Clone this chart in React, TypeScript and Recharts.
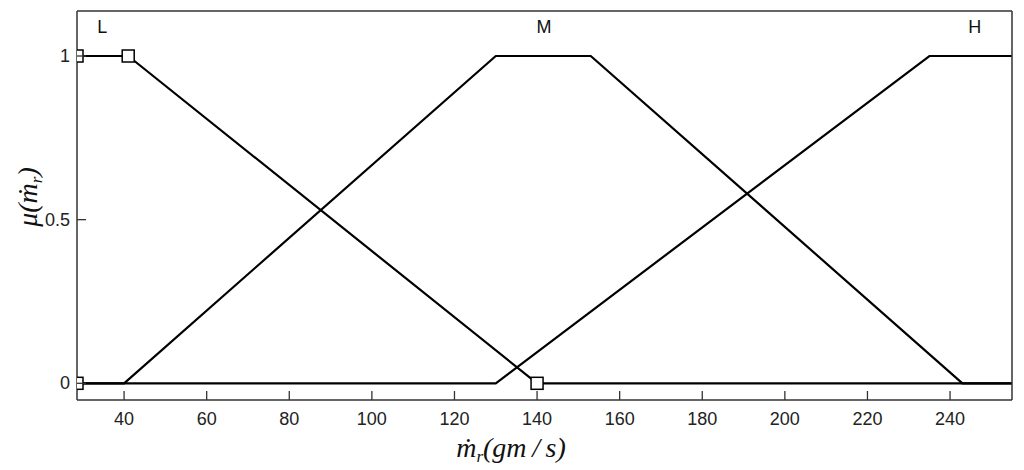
import React from 'react';
import { ComposedChart, Line, Scatter, XAxis, YAxis, ReferenceDot } from 'recharts';

const xDomain: [number, number] = [28.6, 255];
const yDomain: [number, number] = [-0.051, 1.1375];
const xTicks = [40, 60, 80, 100, 120, 140, 160, 180, 200, 220, 240];
const yTicks = [0, 0.5, 1];
const yTickLabels = ['0', '0.5', '1'];

const lowX = [28.6, 41, 140, 255];
const lowY = [1, 1, 0, 0];
const midX = [28.6, 40, 130, 153, 243, 255];
const midY = [0, 0, 1, 1, 0, 0];
const highX = [28.6, 130, 235, 255];
const highY = [0, 0, 1, 1];
const markerX = [28.6, 41, 28.6, 140];
const markerY = [1, 1, 0, 0];
const setNames = ['L', 'M', 'H'];
const setNameX = [34.7, 141.7, 246];
const setNameY = 1.09;

const zip = (xs: number[], ys: number[]) => xs.map((x, i) => ({ x, y: ys[i] }));
const lowData = zip(lowX, lowY);
const midData = zip(midX, midY);
const highData = zip(highX, highY);
const markerData = zip(markerX, markerY);

const AXIS = '#333';
const SANS = '"Liberation Sans", Arial, sans-serif';
const SERIF = '"Liberation Serif", "Times New Roman", serif';

const XTick = (props: any) => {
  const { x, y, payload } = props;
  return (
    <g>
      <line x1={x} y1={y} x2={x} y2={y - 9} stroke={AXIS} strokeWidth={1.3} />
      <text x={x} y={y + 25} textAnchor="middle" fontSize={18} fontFamily={SANS} fill="#222">
        {payload.value}
      </text>
    </g>
  );
};

const YTick = (props: any) => {
  const { x, y, payload } = props;
  const idx = yTicks.indexOf(payload.value);
  return (
    <g>
      <line x1={x} y1={y} x2={x + 9} y2={y} stroke={AXIS} strokeWidth={1.3} />
      <text x={x - 7} y={y + 6} textAnchor="end" fontSize={18} fontFamily={SANS} fill="#222">
        {idx >= 0 ? yTickLabels[idx] : payload.value}
      </text>
    </g>
  );
};

const Square = (props: any) => {
  const { cx, cy } = props;
  return <rect x={cx - 6} y={cy - 6} width={12} height={12} fill="#fff" stroke="#000" strokeWidth={1.5} />;
};

const XTitle = () => (
  <text x={511} y={457} textAnchor="middle" fontSize={28} fontFamily={SERIF} fontStyle="italic" fill="#111">
    <tspan>ṁ</tspan>
    <tspan fontSize={17} dy={5}>r</tspan>
    <tspan dy={-5}>(gm{'\u2009'}/{'\u2009'}s)</tspan>
  </text>
);

const YTitle = () => (
  <text
    x={0}
    y={0}
    transform="translate(37,197) rotate(-90)"
    textAnchor="middle"
    fontSize={28}
    fontFamily={SERIF}
    fontStyle="italic"
    fill="#111"
  >
    <tspan>μ(ṁ</tspan>
    <tspan fontSize={17} dy={5}>r</tspan>
    <tspan dy={-5}>)</tspan>
  </text>
);

export default function App() {
  return (
    <div style={{ position: 'absolute', left: 0, top: 0, background: '#fff' }}>
      <ComposedChart
        width={1024}
        height={470}
        margin={{ top: 10, right: 11, bottom: 0, left: 37 }}
      >
        <XAxis
          dataKey="x"
          type="number"
          domain={xDomain}
          ticks={xTicks}
          allowDataOverflow
          height={70}
          tickSize={0}
          tickMargin={0}
          tickLine={false}
          tick={<XTick />}
          axisLine={{ stroke: AXIS, strokeWidth: 1.5 }}
          label={{ content: () => <XTitle /> }}
        />
        <XAxis
          xAxisId="top"
          orientation="top"
          type="number"
          domain={xDomain}
          allowDataOverflow
          height={1}
          tick={false}
          tickLine={false}
          axisLine={{ stroke: AXIS, strokeWidth: 1.5 }}
        />
        <YAxis
          type="number"
          domain={yDomain}
          ticks={yTicks}
          allowDataOverflow
          width={40}
          tickSize={0}
          tickMargin={0}
          tickLine={false}
          tick={<YTick />}
          axisLine={{ stroke: AXIS, strokeWidth: 1.5 }}
          label={{ content: () => <YTitle /> }}
        />
        <YAxis
          yAxisId="right"
          orientation="right"
          type="number"
          domain={yDomain}
          allowDataOverflow
          width={1}
          tick={false}
          tickLine={false}
          axisLine={{ stroke: AXIS, strokeWidth: 1.5 }}
        />
        <Line data={lowData} dataKey="y" type="linear" stroke="#000" strokeWidth={2.2} strokeLinejoin="round" dot={false} isAnimationActive={false} />
        <Line data={midData} dataKey="y" type="linear" stroke="#000" strokeWidth={2.2} strokeLinejoin="round" dot={false} isAnimationActive={false} />
        <Line data={highData} dataKey="y" type="linear" stroke="#000" strokeWidth={2.2} strokeLinejoin="round" dot={false} isAnimationActive={false} />
        <Scatter data={markerData} dataKey="y" shape={<Square />} isAnimationActive={false} />
        {setNames.map((n, i) => (
          <ReferenceDot
            key={n}
            x={setNameX[i]}
            y={setNameY}
            r={0}
            fill="none"
            stroke="none"
            ifOverflow="visible"
            label={{ value: n, position: 'center', fontSize: 18, fontFamily: SANS, fill: '#111' }}
          />
        ))}
      </ComposedChart>
    </div>
  );
}
